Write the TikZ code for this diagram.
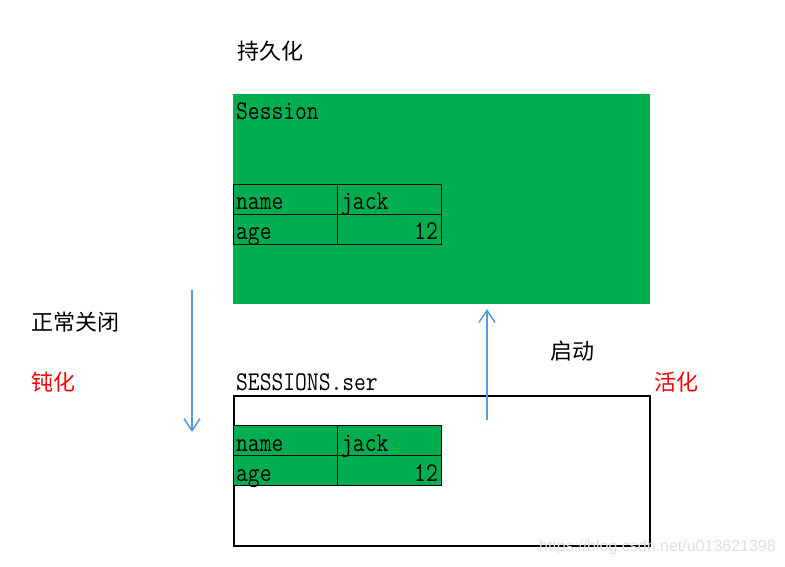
\documentclass[tikz,border=0pt]{standalone}
\usepackage{fontspec}
\usepackage{graphicx}
\newfontfamily\cjk{Noto Sans CJK SC}
\newfontfamily\wmfont{Liberation Sans}
\usetikzlibrary{arrows.meta}
\definecolor{ogreen}{HTML}{00AE4F}
\definecolor{oblue}{HTML}{5B9BD5}
\definecolor{ored}{HTML}{FF0000}
\newcommand{\mtext}[1]{\scalebox{1}[1.18]{\ttfamily\fontsize{22.9}{26}\selectfont #1}}
\begin{document}
\begin{tikzpicture}[x=1pt,y=-1pt,
  greenbox/.style={fill=ogreen, inner sep=0pt, anchor=north west, minimum width=417pt, minimum height=210pt},
  filebox/.style={draw=black, line width=2pt, inner sep=0pt, anchor=north west, minimum width=416pt, minimum height=150pt},
  cell/.style={draw=black, fill=ogreen, line width=1pt, inner sep=0pt, anchor=north west, minimum width=104pt, minimum height=30pt},
  lbl/.style={inner sep=0pt, anchor=base west},
  rlbl/.style={inner sep=0pt, anchor=base east},
  cjklbl/.style={inner sep=0pt, anchor=west, font=\cjk\fontsize{22}{26}\selectfont},
  flow/.style={draw=oblue, line width=2pt, -{Straight Barb[length=12pt,width=16pt,line width=1.5pt]}}
]
\useasboundingbox (0,0) rectangle (785,566);
% top session
\node[greenbox] (session) at (233,94) {};
\node[cell] (a11) at (233,184) {};
\node[cell] (a12) at (337,184) {};
\node[cell] (a21) at (233,214) {};
\node[cell] (a22) at (337,214) {};
\node[lbl] (sesst) at (236,119) {\mtext{Session}};
\node[lbl] (an) at (236,209) {\mtext{name}};
\node[lbl] (aj) at (341,209) {\mtext{jack}};
\node[lbl] (aa) at (236,239) {\mtext{age}};
\node[rlbl] (av) at (438,239) {\mtext{12}};
% bottom file
\node[filebox] (file) at (233,395) {};
\node[cell] (b11) at (233,425) {};
\node[cell] (b12) at (337,425) {};
\node[cell] (b21) at (233,455) {};
\node[cell] (b22) at (337,455) {};
\node[lbl] (filet) at (236,390) {\mtext{SESSIONS.ser}};
\node[lbl] (bn) at (236,451) {\mtext{name}};
\node[lbl] (bj) at (341,451) {\mtext{jack}};
\node[lbl] (ba) at (236,481) {\mtext{age}};
\node[rlbl] (bv) at (438,481) {\mtext{12}};
% labels
\node[cjklbl] (persist) at (237,51) {持久化};
\node[cjklbl] (close) at (31,322) {正常关闭};
\node[cjklbl, text=ored] (passiv) at (31,382) {钝化};
\node[cjklbl] (start) at (550,351) {启动};
\node[cjklbl, text=ored] (activ) at (654,382) {活化};
% arrows
\coordinate (d1) at (192,290);
\coordinate (d2) at (192,432);
\coordinate (u1) at (487,420);
\coordinate (u2) at (487,309);
\draw[flow] (d1) -- (d2);
\draw[flow] (u1) -- (u2);
% watermark
\node[inner sep=0pt, anchor=east, text=gray!25, font=\wmfont\fontsize{16}{18}\selectfont] (wm) at (776,547) {https://blog.csdn.net/u013621398};
\end{tikzpicture}
\end{document}
